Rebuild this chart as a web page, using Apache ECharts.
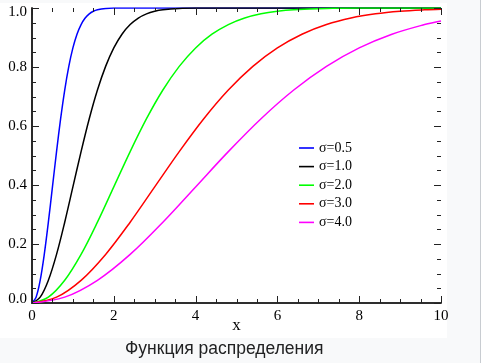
<!DOCTYPE html>
<html><head><meta charset="utf-8">
<script src="https://cdn.jsdelivr.net/npm/echarts@6/dist/echarts.min.js"></script>
<style>
html,body{margin:0;padding:0;background:#f8f9fa;overflow:hidden;}
#wrap{position:relative;width:488px;height:363px;}
#paper{position:absolute;left:0;top:3px;width:447px;height:335px;background:#ffffff;}
#edge{position:absolute;left:480px;top:0;width:1px;height:363px;background:#c8ccd1;}
#after{position:absolute;left:481px;top:0;width:7px;height:363px;background:#ffffff;}
#c{position:absolute;left:0;top:0;width:488px;height:363px;}
</style>
</head><body>
<div id="wrap"><div id="paper"></div><div id="edge"></div><div id="after"></div><div id="c"></div></div>
<script>
// Cumulative distribution curves
var legendNames = ['σ=0.5', 'σ=1.0', 'σ=2.0', 'σ=3.0', 'σ=4.0'];
var colors = ['#0000ff', '#000000', '#00ff00', '#ff0000', '#ff00ff'];
var xTicks = [0, 2, 4, 6, 8, 10];
var yTicks = [0.0, 0.2, 0.4, 0.6, 0.8, 1.0];
var xMinorTicks = [0.5, 1, 1.5, 2.5, 3, 3.5, 4.5, 5, 5.5, 6.5, 7, 7.5, 8.5, 9, 9.5];
var yMinorTicks = [0.05, 0.1, 0.15, 0.25, 0.3, 0.35, 0.45, 0.5, 0.55, 0.65, 0.7, 0.75, 0.85, 0.9, 0.95];

var x05 = [0, 0.1, 0.2, 0.3, 0.4, 0.5, 0.6, 0.7, 0.8, 0.9, 1.0, 1.1, 1.2, 1.3, 1.4, 1.5, 1.6, 1.8, 2.0, 2.5, 10];
var y05 = [0, 0.0198, 0.0769, 0.1647, 0.2739, 0.3935, 0.5132, 0.6247, 0.7220, 0.8021, 0.8647, 0.9111, 0.9439, 0.9660, 0.9802, 0.9889, 0.9940, 0.9985, 0.9997, 1.0, 1.0];

var x10 = [0, 0.2, 0.4, 0.6, 0.8, 1.0, 1.2, 1.4, 1.6, 1.8, 2.0, 2.2, 2.4, 2.6, 2.8, 3.0, 3.2, 3.6, 4.0, 5.0, 10];
var y10 = [0, 0.0198, 0.0769, 0.1647, 0.2739, 0.3935, 0.5132, 0.6247, 0.7220, 0.8021, 0.8647, 0.9111, 0.9439, 0.9660, 0.9802, 0.9889, 0.9940, 0.9985, 0.9997, 1.0, 1.0];

var x20 = [0, 0.4, 0.8, 1.2, 1.6, 2.0, 2.4, 2.8, 3.2, 3.6, 4.0, 4.4, 4.8, 5.2, 5.6, 6.0, 6.4, 7.2, 8.0, 10];
var y20 = [0, 0.0198, 0.0769, 0.1647, 0.2739, 0.3935, 0.5132, 0.6247, 0.7220, 0.8021, 0.8647, 0.9111, 0.9439, 0.9660, 0.9802, 0.9889, 0.9940, 0.9985, 0.9997, 1.0];

var x30 = [0, 0.6, 1.2, 1.8, 2.4, 3.0, 3.6, 4.2, 4.8, 5.4, 6.0, 6.6, 7.2, 7.8, 8.4, 9.0, 9.6, 10];
var y30 = [0, 0.0198, 0.0769, 0.1647, 0.2739, 0.3935, 0.5132, 0.6247, 0.7220, 0.8021, 0.8647, 0.9111, 0.9439, 0.9660, 0.9802, 0.9889, 0.9940, 0.9961];

var x40 = [0, 0.8, 1.6, 2.4, 3.2, 4.0, 4.8, 5.6, 6.4, 7.2, 8.0, 8.8, 9.6, 10];
var y40 = [0, 0.0198, 0.0769, 0.1647, 0.2739, 0.3935, 0.5132, 0.6247, 0.7220, 0.8021, 0.8647, 0.9111, 0.9439, 0.9561];

var xsAll = [x05, x10, x20, x30, x40];
var ysAll = [y05, y10, y20, y30, y40];

function zip(xs, ys) { return xs.map(function (v, i) { return [v, ys[i]]; }); }

var serif = 'Liberation Serif';
var series = legendNames.map(function (n, i) {
  return {
    name: n, type: 'line', data: zip(xsAll[i], ysAll[i]),
    showSymbol: false, smooth: 0.35,
    lineStyle: { color: colors[i], width: 1.5 },
    itemStyle: { color: colors[i] },
    silent: true, animation: false
  };
});

// Inward-pointing frame ticks, placed through the axes' own scales
var tickData = [];
xTicks.forEach(function (v) { tickData.push([0, v, 7]); });
xMinorTicks.forEach(function (v) { tickData.push([0, v, 4]); });
yTicks.forEach(function (v) { tickData.push([1, v, 7]); });
yMinorTicks.forEach(function (v) { tickData.push([1, v, 4]); });

function seg(x1, y1, x2, y2) {
  return { type: 'line', shape: { x1: x1, y1: y1, x2: x2, y2: y2 }, style: { stroke: '#222', lineWidth: 1 } };
}
series.push({
  type: 'custom', name: 'ticks', data: tickData, silent: true, animation: false, z: 5,
  renderItem: function (params, api) {
    var d = api.value(0), v = api.value(1), len = api.value(2);
    var cs = params.coordSys;
    var top = cs.y, bot = cs.y + cs.height, lft = cs.x, rgt = cs.x + cs.width;
    if (d === 0) {
      var px = Math.round(api.coord([v, 0])[0]) + 0.5;
      return { type: 'group', children: [seg(px, bot, px, bot - len), seg(px, top, px, top + len)] };
    }
    var py = Math.round(api.coord([0, v])[1]) + 0.5;
    return { type: 'group', children: [seg(lft, py, lft + len, py), seg(rgt, py, rgt - len, py)] };
  }
});

function lineOn() { return { show: true, lineStyle: { color: '#222', width: 1.6 } }; }
var off = { show: false };

var chart = echarts.init(document.getElementById('c'), null, { renderer: 'canvas' });
chart.setOption({
  backgroundColor: 'transparent',
  animation: false,
  grid: { left: 32, right: 47, top: 8, bottom: 60, containLabel: false },
  legend: {
    orient: 'vertical', left: 294, top: 136, padding: 5, icon: 'rect', itemWidth: 15, itemHeight: 1.6,
    itemGap: 4.6, selectedMode: false,
    textStyle: { fontFamily: serif, fontSize: 14, color: '#000', lineHeight: 14 },
    data: legendNames
  },
  xAxis: [{
    type: 'value', position: 'bottom', min: xTicks[0], max: xTicks[xTicks.length - 1], interval: 2,
    axisLine: lineOn(), axisTick: off, minorTick: off, splitLine: off,
    name: 'x', nameLocation: 'middle', nameGap: 14, nameMoveOverlap: false,
    nameTextStyle: { fontFamily: serif, fontSize: 17, color: '#000' },
    axisLabel: { fontFamily: serif, fontSize: 15, color: '#000', margin: 6 }
  }, {
    type: 'value', position: 'top', min: 0, max: 10, interval: 2,
    axisLine: lineOn(), axisTick: off, minorTick: off, splitLine: off, axisLabel: off
  }],
  yAxis: [{
    type: 'value', position: 'left', min: yTicks[0], max: yTicks[yTicks.length - 1], interval: 0.2,
    axisLine: lineOn(), axisTick: off, minorTick: off, splitLine: off,
    axisLabel: {
      fontFamily: serif, fontSize: 15, color: '#000', margin: 5,
      formatter: function (v) {
        var s = v.toFixed(1);
        if (v === 1) return '{t|' + s + '}';
        if (v === 0) return '{b|' + s + '}';
        return s;
      },
      rich: {
        t: { fontFamily: serif, fontSize: 15, color: '#000', padding: [9, 0, 0, 0] },
        b: { fontFamily: serif, fontSize: 15, color: '#000', padding: [0, 0, 8, 0] }
      }
    }
  }, {
    type: 'value', position: 'right', min: 0, max: 1, interval: 0.2,
    axisLine: lineOn(), axisTick: off, minorTick: off, splitLine: off, axisLabel: off
  }],
  graphic: [{
    type: 'text', left: 125, top: 340,
    style: { text: 'Функция распределения', font: '17.5px "Liberation Sans"', fill: '#202122' },
    silent: true
  }],
  series: series
});
</script>
</body></html>
